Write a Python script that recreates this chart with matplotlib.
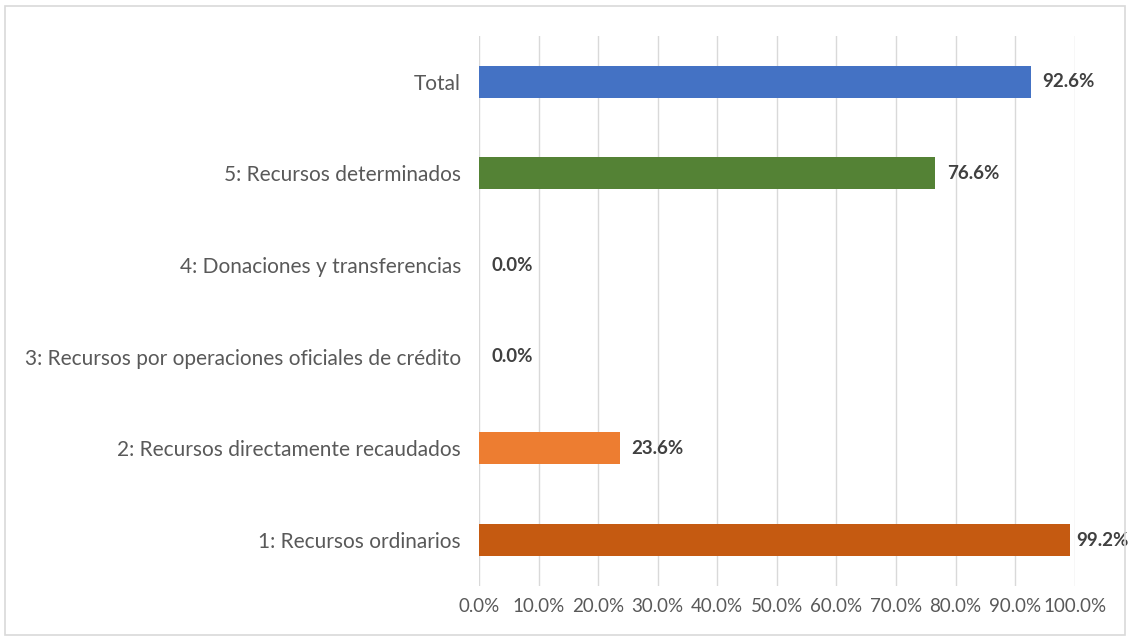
import matplotlib.pyplot as plt
from matplotlib.patches import Rectangle
from matplotlib.ticker import FuncFormatter

categories = ['1: Recursos ordinarios',
              '2: Recursos directamente recaudados',
              '3: Recursos por operaciones oficiales de crédito',
              '4: Donaciones y transferencias',
              '5: Recursos determinados',
              'Total']
values = [99.2, 23.6, 0.0, 0.0, 76.6, 92.6]
colors = ['#C55A11', '#ED7D31', '#ED7D31', '#ED7D31', '#548235', '#4472C4']
ticks = [0, 10, 20, 30, 40, 50, 60, 70, 80, 90, 100]

plt.rcParams['font.family'] = ['Lato', 'DejaVu Sans']

fig = plt.figure(figsize=(11.3, 6.39), dpi=100)
ax = fig.add_axes([0.424, 0.083, 0.527, 0.861])

y = range(len(categories))
ax.barh(y, values, height=0.35, color=colors, zorder=3)
for i, v in enumerate(values):
    # keep the label inside the plot like the spreadsheet does
    x = min(v + 2.0, 100.3)
    ax.text(x, i, f'{v:.1f}%', va='center', ha='left', fontsize=13.5,
            fontweight='bold', color='#404040', zorder=4)

ax.set_xlim(0, 100)
ax.set_ylim(-0.5, 5.5)
ax.set_yticks(list(y))
ax.set_yticklabels(categories, fontsize=15, color='#595959')
ax.set_xticks(ticks)
ax.xaxis.set_major_formatter(FuncFormatter(lambda v, p: f'{v:.1f}%'))
ax.tick_params(axis='x', labelsize=13.5, colors='#595959', length=0, pad=9)
ax.tick_params(axis='y', length=0, pad=13)
ax.grid(axis='x', color='#D9D9D9', linewidth=1, zorder=0)
for s in ax.spines.values():
    s.set_visible(False)

fig.patches.append(Rectangle((0.004, 0.006), 0.992, 0.985, transform=fig.transFigure,
                             fill=False, edgecolor='#D9D9D9', linewidth=1.2))

fig.savefig('out.png', dpi=100)
